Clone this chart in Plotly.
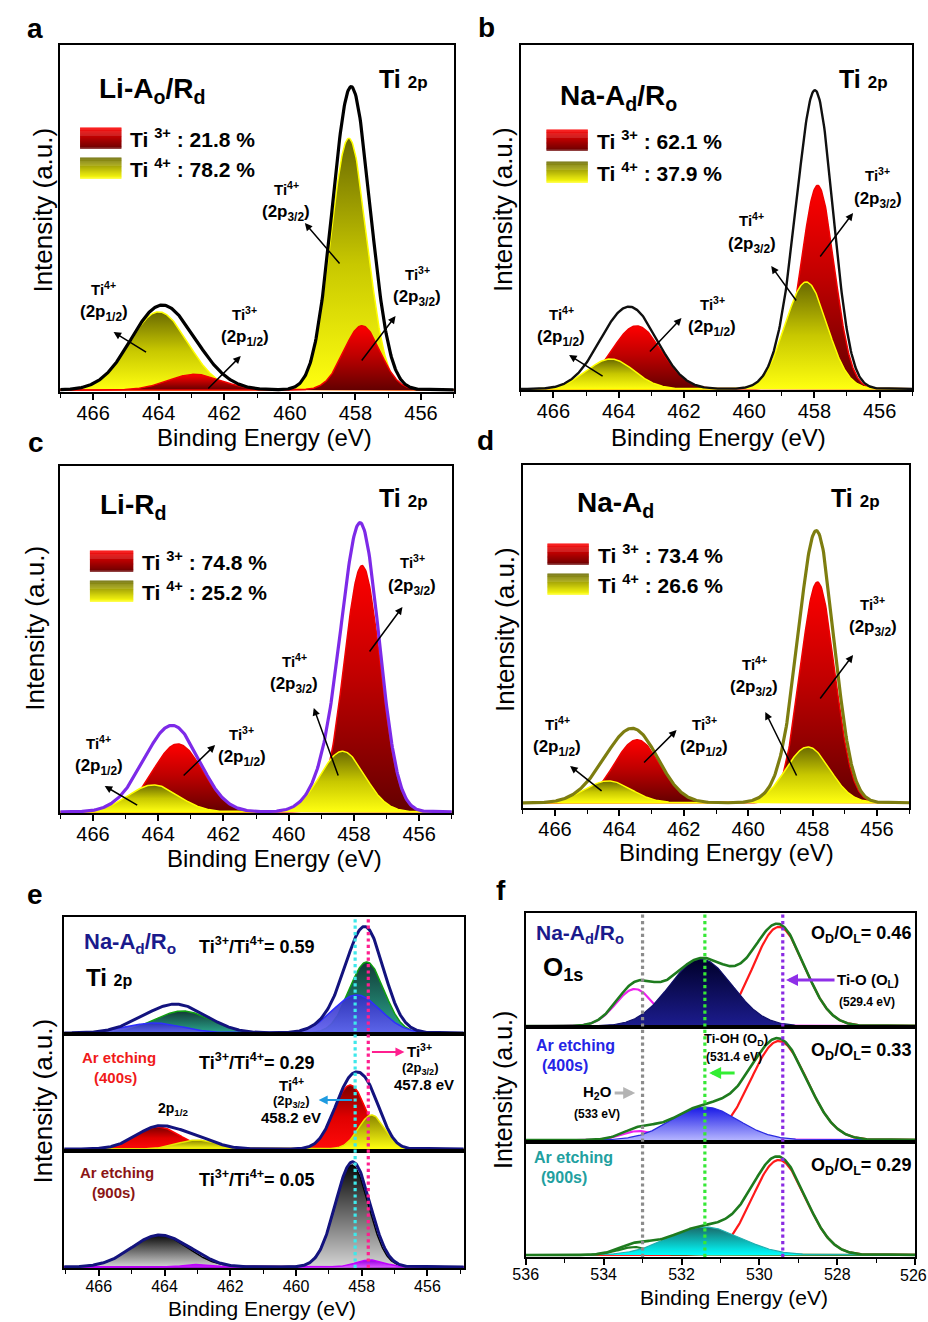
import numpy as np
import plotly.graph_objects as go

W, H = 928, 1322
FONT = "Liberation Sans, Arial, sans-serif"

# ---------------------------------------------------------------- data
# Ti 2p peak fits, one entry per component, listed in drawing order
# (center in eV, height in a.u., FWHM in eV)
A_SPECIES = ["Ti4+", "Ti4+", "Ti3+", "Ti3+"]
A_CENTER = [464.0, 458.2, 462.9, 457.8]
A_HEIGHT = [22.5, 72.5, 4.5, 18.5]
A_FWHM = [2.1, 1.3, 1.9, 1.3]
A_PCT = [21.8, 78.2]          # Ti3+, Ti4+ share

B_SPECIES = ["Ti3+", "Ti3+", "Ti4+", "Ti4+"]
B_CENTER = [463.45, 457.9, 464.25, 458.25]
B_HEIGHT = [18.3, 59.0, 8.7, 31.0]
B_FWHM = [1.8, 1.2, 1.7, 1.5]
B_PCT = [62.1, 37.9]

C_SPECIES = ["Ti3+", "Ti3+", "Ti4+", "Ti4+"]
C_CENTER = [463.4, 457.75, 464.15, 458.35]
C_HEIGHT = [19.6, 71.0, 7.8, 17.5]
C_FWHM = [1.8, 1.3, 1.8, 1.6]
C_PCT = [74.8, 25.2]

D_SPECIES = ["Ti3+", "Ti3+", "Ti4+", "Ti4+"]
D_CENTER = [463.45, 457.85, 464.35, 458.15]
D_HEIGHT = [18.4, 64.4, 6.4, 16.3]
D_FWHM = [1.7, 1.25, 1.7, 1.6]
D_PCT = [73.4, 26.6]

# Ti 2p depth profile of Na-Ad/Ro: as prepared, 400 s and 900 s Ar etching
E1_CENTER = [463.45, 457.85, 464.3, 458.15]
E1_HEIGHT = [22.0, 71.0, 10.0, 38.0]
E1_FWHM = [2.0, 1.25, 2.0, 1.7]
E2_CENTER = [464.2, 458.35, 463.0, 457.7]
E2_HEIGHT = [22.0, 64.0, 9.0, 34.0]
E2_FWHM = [1.6, 1.15, 1.4, 0.95]
E3_CENTER = [464.15, 458.3, 462.95, 457.75]
E3_HEIGHT = [32.0, 102.0, 2.5, 7.0]
E3_FWHM = [2.0, 1.2, 1.0, 1.0]
E_RATIO = [0.59, 0.29, 0.05]
E_REF = [458.2, 457.8]        # Ti4+ / Ti3+ 2p3/2 positions

# O 1s fits: lattice O (O_L), H2O, Ti-OH (O_D)
F1_CENTER = [529.5, 533.2, 531.5]
F1_HEIGHT = [99.0, 37.0, 67.0]
F1_FWHM = [1.55, 1.15, 1.9]
F2_CENTER = [529.5, 533.1, 531.4]
F2_HEIGHT = [99.0, 9.0, 33.0]
F2_FWHM = [1.7, 1.0, 2.0]
F3_CENTER = [529.5, 533.2, 531.4]
F3_HEIGHT = [95.0, 8.0, 28.0]
F3_FWHM = [1.6, 1.0, 2.2]
F_RATIO = [0.46, 0.33, 0.29]
F_REF = [533.0, 531.4, 529.4]  # H2O, Ti-OH, Ti-O
F_EDGE_TICK = 526              # last tick label, sits on the page edge


# ---------------------------------------------------------------- helpers
def peak(x, c, h, w):
    return h * np.exp(-4 * np.log(2) * (x - c) ** 2 / w ** 2)


def P(x, y):
    return x / W, 1 - y / H


XT = np.linspace(454.8, 467.2, 621)
XO = np.linspace(525.8, 536.2, 521)

fig = go.Figure()
layout = dict(width=W, height=H, margin=dict(l=0, r=0, t=0, b=0),
              paper_bgcolor="white", plot_bgcolor="rgba(0,0,0,0)",
              showlegend=False, annotations=[], shapes=[])

# panel boxes in page pixels: left, right, top, bottom
BOXES = {
    1: (48, 447, 45, 392), 2: (515, 912, 45, 390),
    3: (48, 445, 466, 813), 4: (517, 909, 465, 808),
    5: (52, 457, 917, 1034), 6: (52, 457, 1034, 1151), 7: (52, 457, 1151, 1268),
    8: (520, 915, 913, 1027), 9: (520, 915, 1027, 1142), 10: (520, 915, 1142, 1257),
}
YR = {1: [-0.6, 99.4], 2: [-0.3, 99.7], 3: [-0.3, 99.7], 4: [-1.5, 98.5],
      5: [-1, 116], 6: [-2, 115], 7: [-1, 116],
      8: [-1, 113], 9: [-2, 113], 10: [-2, 113]}


def add_axes(i, xr, dtick_from, tick_font, show_ticks=True, standoff=-4):
    l, r, t, b = BOXES[i]
    s = "" if i == 1 else str(i)
    ax = dict(domain=[l / W, r / W], range=xr, anchor="y" + s,
              showline=True, linecolor="black", linewidth=2, mirror=True,
              showgrid=False, zeroline=False)
    if show_ticks:
        ax.update(tickmode="linear", tick0=dtick_from, dtick=2,
                  ticks="outside", ticklen=6, tickwidth=1.6, tickcolor="black",
                  ticklabelstandoff=standoff,
                  tickfont=dict(family=FONT, size=tick_font, color="black"),
                  minor=dict(ticks="outside", ticklen=4, tickwidth=1.4,
                             tickcolor="black", dtick=1, tick0=dtick_from))
    else:
        ax.update(showticklabels=False, ticks="")
    ay = dict(domain=[1 - b / H, 1 - t / H], range=YR[i], anchor="x" + s,
              showline=True, linecolor="black", linewidth=2, mirror=True,
              showgrid=False, zeroline=False, showticklabels=False, ticks="")
    layout["xaxis" + s] = ax
    layout["yaxis" + s] = ay


for i in (1, 2, 3, 4):
    add_axes(i, [467, 455], 456, 20)
add_axes(5, [467.05, 454.9], 456, 16, False)
add_axes(6, [467.05, 454.9], 456, 16, False)
add_axes(7, [467.05, 454.9], 456, 16, standoff=-3)
add_axes(8, [536, 526], 526, 16, False)
add_axes(9, [536, 526], 526, 16, False)
add_axes(10, [536, 526], 526, 16, standoff=-4)


def ref(i):
    s = "" if i == 1 else str(i)
    return "x" + s, "y" + s


def fill_peak(i, x, y, edge, scale, width=1.5):
    xa, ya = ref(i)
    fig.add_trace(go.Scatter(
        x=x, y=y, mode="lines", line=dict(color=edge, width=width),
        fill="tozeroy",
        fillgradient=dict(type="vertical", colorscale=scale),
        xaxis=xa, yaxis=ya, hoverinfo="skip"))


def line(i, x, y, color, width):
    xa, ya = ref(i)
    fig.add_trace(go.Scatter(x=x, y=y, mode="lines",
                             line=dict(color=color, width=width),
                             xaxis=xa, yaxis=ya, hoverinfo="skip"))


TI_STYLE = {
    "Ti3+": dict(edge="#f00000", scale=[[0, "#640000"], [0.55, "#c00000"], [1, "#ff0000"]]),
    "Ti4+": dict(edge="#ffff00", scale=[[0, "#ffff10"], [0.5, "#c8c800"], [1, "#6a6a00"]]),
}


def ti_panel(i, species, centers, heights, fwhms, env_color, env_width):
    total = np.zeros_like(XT)
    for sp, c, h, w in zip(species, centers, heights, fwhms):
        y = peak(XT, c, h, w)
        total += y
        st = TI_STYLE[sp]
        fill_peak(i, XT, y, st["edge"], st["scale"])
    line(i, XT, total, env_color, env_width)


ti_panel(1, A_SPECIES, A_CENTER, A_HEIGHT, A_FWHM, "black", 3.2)
ti_panel(2, B_SPECIES, B_CENTER, B_HEIGHT, B_FWHM, "#101010", 2.4)
ti_panel(3, C_SPECIES, C_CENTER, C_HEIGHT, C_FWHM, "#7d2ae8", 3.2)
ti_panel(4, D_SPECIES, D_CENTER, D_HEIGHT, D_FWHM, "#7d7d10", 3.2)

# depth-profile components: (edge colour, gradient) per fitted peak
E_STYLES = [
    [dict(edge="#10a010", scale=[[0, "#2aa88e"], [1, "#123a36"]])] * 2
    + [dict(edge="#2e2eff", scale=[[0, "rgba(96,96,240,0.93)"], [1, "rgba(48,48,190,0.93)"]])] * 2,
    [dict(edge="#ff0000", scale=[[0, "#ff0a0a"], [0.5, "#e00000"], [1, "#7a0000"]])] * 2
    + [dict(edge="#e8e800", scale=[[0, "#ffff10"], [1, "#8a8400"]])] * 2,
    [dict(edge="#000000", scale=[[0, "#d4d4d4"], [1, "#080808"]])] * 2
    + [dict(edge="#c000ff", scale=[[0, "#d850ff"], [1, "#9000e0"]])] * 2,
]
E_FITS = [(E1_CENTER, E1_HEIGHT, E1_FWHM), (E2_CENTER, E2_HEIGHT, E2_FWHM),
          (E3_CENTER, E3_HEIGHT, E3_FWHM)]
for k, (cs, hs, ws) in enumerate(E_FITS):
    i = 5 + k
    total = np.zeros_like(XT)
    for st, c, h, w in zip(E_STYLES[k], cs, hs, ws):
        y = peak(XT, c, h, w)
        total += y
        fill_peak(i, XT, y, st["edge"], st["scale"])
    line(i, XT, total, "#13137e", 3)

F_FILLS = [[[0, "#1c1c8e"], [1, "#00002a"]],
           [[0, "#b4b4ff"], [1, "#1818e6"]],
           [[0, "#00ffff"], [1, "#1a6a6a"]]]
F_EDGES = ["#10106a", "#2a2ae0", "#20b0b0"]
F_MINOR = ["#ee22ee", "#ee22ee", "#1e7b1e"]
F_FITS = [(F1_CENTER, F1_HEIGHT, F1_FWHM), (F2_CENTER, F2_HEIGHT, F2_FWHM),
          (F3_CENTER, F3_HEIGHT, F3_FWHM)]
for k, (cs, hs, ws) in enumerate(F_FITS):
    i = 8 + k
    comps = [peak(XO, c, h, w) for c, h, w in zip(cs, hs, ws)]
    line(i, XO, comps[0], "#ff1a1a", 2.2)
    line(i, XO, comps[1], F_MINOR[k], 2.2)
    fill_peak(i, XO, comps[2], F_EDGES[k], F_FILLS[k], 1.2)
    line(i, XO, comps[0] + comps[1] + comps[2], "#1e7b1e", 2.6)

# dotted reference lines through the stacked panels
for v, col in zip(E_REF, ["#3ee8ea", "#ff1f8f"]):
    layout["shapes"].append(dict(type="line", xref="x7", yref="paper",
                                 x0=v, x1=v, y0=1 - 1268 / H, y1=1 - 917 / H,
                                 line=dict(color=col, width=3.2, dash="dot"),
                                 layer="above"))
for v, col in zip(F_REF, ["#8c8c8c", "#36e836", "#8a2be2"]):
    layout["shapes"].append(dict(type="line", xref="x10", yref="paper",
                                 x0=v, x1=v, y0=1 - 1257 / H, y1=1 - 913 / H,
                                 line=dict(color=col, width=3.2, dash="dot"),
                                 layer="above"))


# ---------------------------------------------------------------- text
def text(x, y, s, size, color="black", bold=True, anchor="center", angle=0):
    px_, py_ = P(x, y)
    layout["annotations"].append(dict(
        x=px_, y=py_, xref="paper", yref="paper",
        text=f"<b>{s}</b>" if bold else s, showarrow=False,
        font=dict(family=FONT, size=size, color=color),
        xanchor=anchor, yanchor="middle", textangle=angle))


def arrow(hx, hy, tx, ty, color="black", width=1.5, size=1.0):
    px_, py_ = P(hx, hy)
    layout["annotations"].append(dict(
        x=px_, y=py_, xref="paper", yref="paper", ax=tx - hx, ay=ty - hy,
        text="", showarrow=True, arrowhead=2, arrowsize=size,
        arrowwidth=width, arrowcolor=color, standoff=0, startstandoff=0))


def mix(c0, c1, t):
    a = [int(c0[j:j + 2], 16) for j in (1, 3, 5)]
    b = [int(c1[j:j + 2], 16) for j in (1, 3, 5)]
    return "rgb(%d,%d,%d)" % tuple(round(a[k] + (b[k] - a[k]) * t) for k in range(3))


def swatch(x0, y0, x1, y1, top, bottom, n=22):
    step = (y1 - y0) / n
    for j in range(n):
        col = mix(top, bottom, (j + 0.5) / n)
        a0, b0 = P(x0, y0 + j * step)
        a1, b1 = P(x1, y0 + (j + 1) * step + 0.3)
        layout["shapes"].append(dict(type="rect", xref="paper", yref="paper",
                                     x0=a0, x1=a1, y0=b1, y1=b0,
                                     line=dict(width=0), fillcolor=col))


TI2P = "Ti <span style='font-size:17px'>2p</span>"


def legend(x, y_red, y_yel, pct, box_w=42, box_h=21):
    swatch(x, y_red - box_h / 2, x + box_w, y_red + box_h / 2, "#ff0000", "#6a0000")
    swatch(x, y_yel - box_h / 2, x + box_w, y_yel + box_h / 2, "#6a6a00", "#ffff10")
    text(x + box_w + 7, y_red, f"Ti <sup>3+</sup> : {pct[0]} %", 21, anchor="left")
    text(x + box_w + 7, y_yel, f"Ti <sup>4+</sup> : {pct[1]} %", 21, anchor="left")


def label(x, y, ion, orbital):
    text(x, y, f"Ti<sup>{ion}</sup>", 15)
    text(x, y + 25, f"(2p<sub>{orbital}</sub>)", 17)


# panel letters
for s, x, y in [("a", 22, 29), ("b", 480, 28), ("c", 23, 443),
                ("d", 479, 441), ("e", 22, 895), ("f", 495, 890)]:
    text(x, y, s, 28)

# axis titles
for x, y in [(255, 437), (716, 437), (265, 858), (724, 852)]:
    text(x, y, "Binding Energy (eV)", 24, bold=False)
for x, y in [(30, 210), (497, 210), (22, 628), (499, 630)]:
    text(x, y, "Intensity (a.u.)", 26, bold=False, angle=-90)
text(253, 1308, "Binding Energy (eV)", 21, bold=False)
text(731, 1297, "Binding Energy (eV)", 21, bold=False)
text(30, 1101, "Intensity (a.u.)", 26, bold=False, angle=-90)
text(497, 1090, "Intensity (a.u.)", 25, bold=False, angle=-90)
# the right-most O 1s tick label touches the page edge, so it is set by hand
text(913, 1275, str(F_EDGE_TICK), 16, bold=False)

# panel a
text(85, 90, "Li-A<sub>o</sub>/R<sub>d</sub>", 28, anchor="left")
text(369, 79, TI2P, 25, anchor="left")
legend(68, 138, 168, A_PCT)
label(277, 188, "4+", "3/2"); arrow(296, 223, 332, 265)
label(410, 273, "3+", "3/2"); arrow(388, 316, 353, 362)
label(92, 288, "4+", "1/2"); arrow(102, 332, 136, 353)
label(235, 313, "3+", "1/2"); arrow(231, 356, 197, 390)

# panel b
text(553, 97, "Na-A<sub>d</sub>/R<sub>o</sub>", 28, anchor="left")
text(836, 79, TI2P, 25, anchor="left")
legend(541, 140, 172, B_PCT)
label(749, 220, "4+", "3/2"); arrow(769, 266, 795, 302)
label(877, 175, "3+", "3/2"); arrow(852, 213, 818, 258)
label(556, 313, "4+", "1/2"); arrow(564, 355, 599, 377)
label(709, 303, "3+", "1/2"); arrow(678, 318, 645, 353)

# panel c
text(86, 507, "Li-R<sub>d</sub>", 28, anchor="left")
text(369, 498, TI2P, 25, anchor="left")
legend(78, 561, 591, C_PCT, box_w=44)
label(285, 660, "4+", "3/2"); arrow(305, 708, 330, 777)
label(405, 562, "3+", "3/2"); arrow(395, 607, 361, 653)
label(87, 742, "4+", "1/2"); arrow(93, 786, 127, 806)
label(232, 733, "3+", "1/2"); arrow(205, 745, 172, 777)

# panel d
text(570, 505, "Na-A<sub>d</sub>", 28, anchor="left")
text(828, 498, TI2P, 25, anchor="left")
legend(542, 554, 584, D_PCT)
label(752, 663, "4+", "3/2"); arrow(763, 712, 795, 777)
label(872, 603, "3+", "3/2"); arrow(852, 655, 818, 700)
label(552, 723, "4+", "1/2"); arrow(565, 766, 598, 792)
label(701, 723, "3+", "1/2"); arrow(673, 730, 639, 764)

# panel e
NAVY = "#1a1a8c"
text(70, 943, "Na-A<sub>d</sub>/R<sub>o</sub>", 22, color=NAVY, anchor="left")
text(72, 977, "Ti <span style='font-size:16px'>2p</span>", 24, anchor="left")
for y, r in zip([945, 1061, 1178], E_RATIO):
    text(187, y, f"Ti<sup>3+</sup>/Ti<sup>4+</sup>= {r:.2f}", 18, anchor="left")
text(107, 1057, "Ar etching", 15, color="#f01a1a")
text(104, 1077, "(400s)", 15, color="#f01a1a")
text(105, 1172, "Ar etching", 15, color="#8b1515")
text(102, 1192, "(900s)", 15, color="#8b1515")
text(163, 1109, "2p<sub>1/2</sub>", 14)
text(282, 1084, "Ti<sup>4+</sup>", 15)
text(282, 1101, "(2p<sub>3/2</sub>)", 13)
text(282, 1117, f"{E_REF[0]} eV", 15)
text(412, 1050, "Ti<sup>3+</sup>", 15)
text(413, 1068, "(2p<sub>3/2</sub>)", 13)
text(417, 1084, f"{E_REF[1]} eV", 15)
arrow(310, 1100, 345, 1100, color="#1f9be0", width=1.8)
arrow(397, 1052, 363, 1052, color="#ff1f8f", width=1.8)

# panel f
text(528, 934, "Na-A<sub>d</sub>/R<sub>o</sub>", 21, color=NAVY, anchor="left")
text(535, 969, "O<sub>1s</sub>", 26, anchor="left")
for y, r in zip([934, 1051, 1166], F_RATIO):
    text(807, y, f"O<sub>D</sub>/O<sub>L</sub>= {r:.2f}", 18, anchor="left")
text(834, 980, "Ti-O (O<sub>L</sub>)", 15, anchor="left")
text(866, 1002, f"({F_REF[2]} eV)", 12)
arrow(784, 980, 834, 980, color="#8f2fe8", width=3, size=0.8)
text(528, 1045, "Ar etching", 16, color="#2424e6", anchor="left")
text(560, 1065, "(400s)", 16, color="#2424e6")
text(733, 1039, "Ti-OH (O<sub>D</sub>)", 13)
text(731, 1057, f"({F_REF[1]} eV)", 12)
arrow(706, 1073, 733, 1073, color="#33ee33", width=3, size=0.8)
text(593, 1092, "H<sub>2</sub>O", 15)
arrow(631, 1093, 609, 1093, color="#b4b4b4", width=3, size=0.8)
text(592, 1114, f"({F_REF[0]:.0f} eV)", 12)
text(526, 1157, "Ar etching", 16, color="#22a0a0", anchor="left")
text(559, 1177, "(900s)", 16, color="#22a0a0")

fig.update_layout(**layout)
fig.write_html("out.html")
